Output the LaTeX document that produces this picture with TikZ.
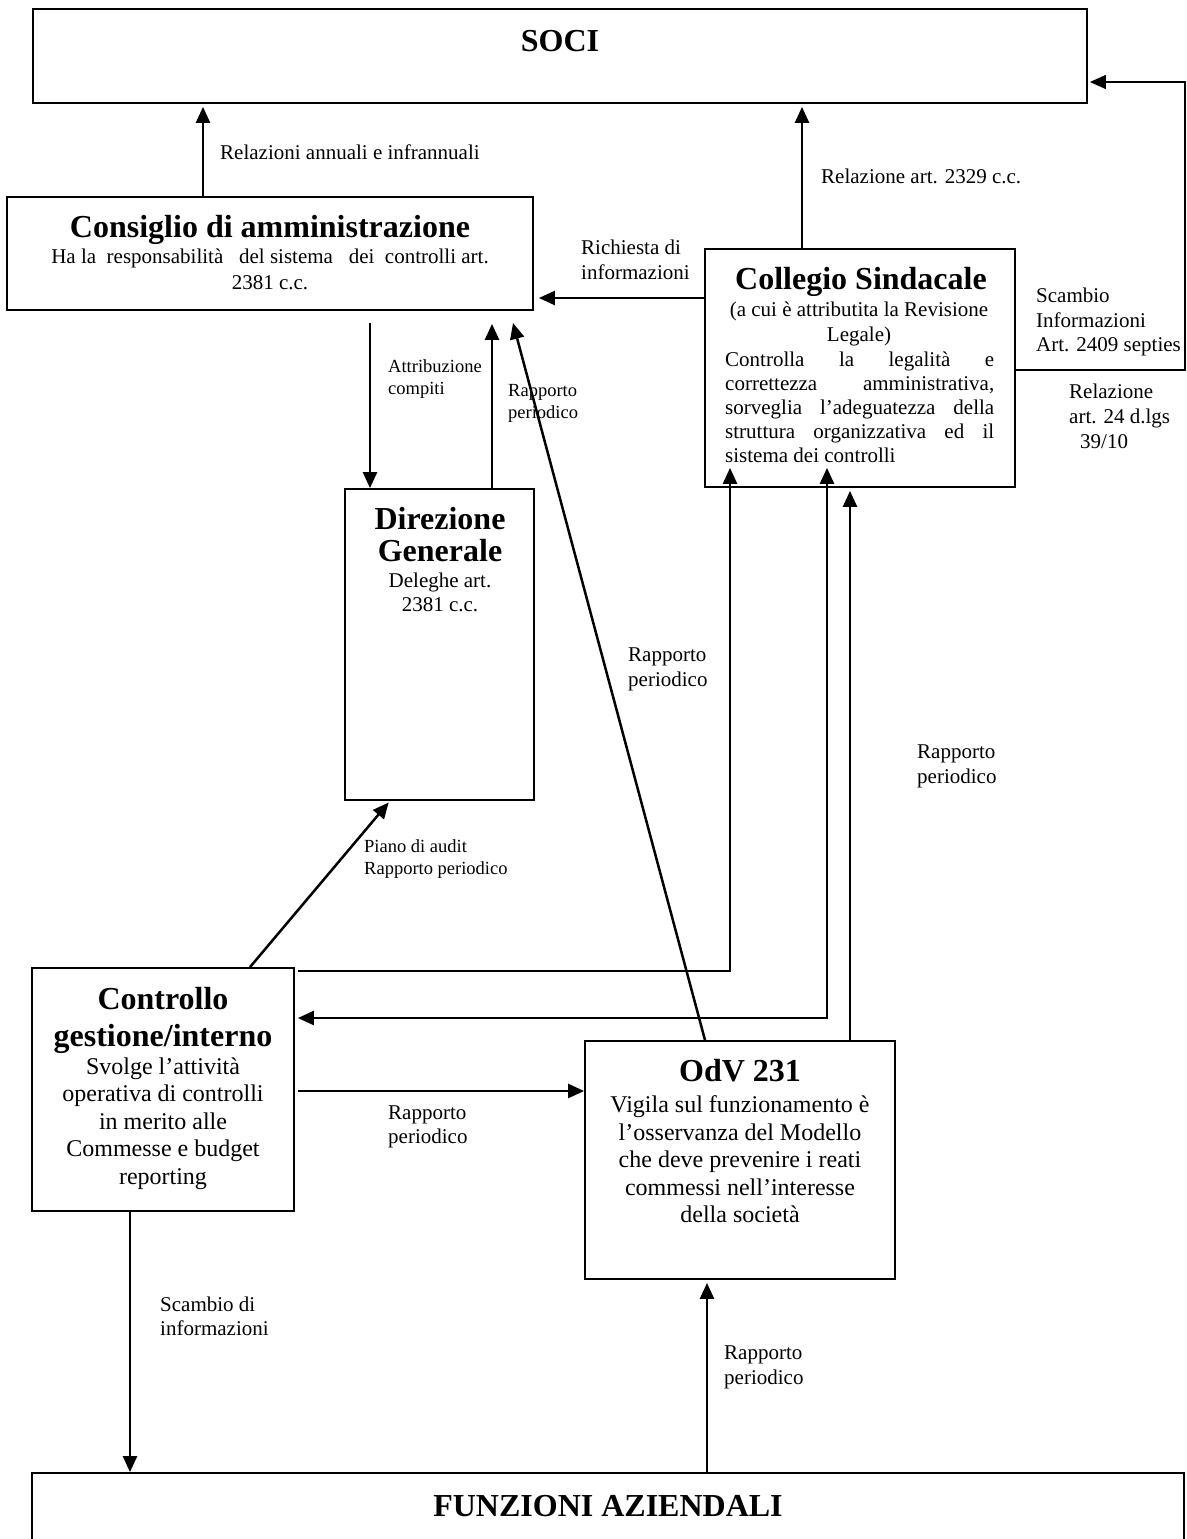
\documentclass[tikz,border=0pt]{standalone}
\usepackage{fontspec}
\setmainfont{Liberation Serif}
\usetikzlibrary{arrows.meta}
\begin{document}
\begin{tikzpicture}[x=1pt,y=-1pt,
  box/.style={draw, line width=1.8pt, inner sep=0pt},
  ttl/.style={font=\fontsize{32}{37}\selectfont\bfseries, inner sep=0pt, anchor=north, align=center},
  ttlb/.style={font=\fontsize{32}{32}\selectfont\bfseries, inner sep=0pt, anchor=north, align=center},
  bodyA/.style={font=\fontsize{24}{27.5}\selectfont, inner sep=0pt, anchor=north, align=center},
  bodyB/.style={font=\fontsize{21}{24}\selectfont, inner sep=0pt, anchor=north, align=center},
  lab/.style={font=\fontsize{21}{25}\selectfont, inner sep=0pt, anchor=north west, align=left},
  sml/.style={font=\fontsize{18.5}{22}\selectfont, inner sep=0pt, anchor=north west, align=left},
  tipA/.tip={Triangle[length=16pt,width=14pt]},
  arr/.style={line width=2.5pt, -tipA},
  arrb/.style={line width=2.5pt, tipA-tipA},
  thinarr/.style={line width=1.3pt, -tipA}
]
\useasboundingbox (0,0) rectangle (1186,1539);
\fill[white] (0,0) rectangle (1186,1539);

% boxes
\node[box, minimum width=1054pt, minimum height=94pt] (soci) at (560,56) {};
\node[box, minimum width=526pt, minimum height=113pt] (cda) at (270,253.5) {};
\node[box, minimum width=310pt, minimum height=238pt] (cs) at (860,368) {};
\node[box, minimum width=189pt, minimum height=311pt] (dg) at (439.5,644.5) {};
\node[box, minimum width=262pt, minimum height=243pt] (cg) at (163,1089.5) {};
\node[box, minimum width=310pt, minimum height=238pt] (odv) at (740,1160) {};
\node[box, minimum width=1152pt, minimum height=100pt] (fa) at (608,1523) {};

% box texts
\node[ttl] (socit) at (560,25) {\strut SOCI};
\node[ttl] (cdat) at (270,211.7) {\strut Consiglio di amministrazione};
\node[font=\fontsize{21}{26}\selectfont, inner sep=0pt, anchor=north, align=center] (cdab) at (270,245.1)
  {\strut Ha la\ \ responsabilità\ \ \ del sistema\ \ \ dei\ \ controlli art.\\2381 c.c.};
\node[ttl] (cst) at (861,263.7) {\strut Collegio Sindacale};
\node[font=\fontsize{21}{25}\selectfont, inner sep=0pt, anchor=north, align=center] (css) at (859,298.8)
  {\strut (a cui è attributita la Revisione\\Legale)};
\node[bodyB, anchor=north west, align=left] (csb) at (725,349.5)
  {\strut\makebox[269pt][s]{Controlla la legalità e}\\
   \makebox[269pt][s]{correttezza amministrativa,}\\
   \makebox[269pt][s]{sorveglia l’adeguatezza della}\\
   \makebox[269pt][s]{struttura organizzativa ed il}\\
   sistema dei controlli};
\node[ttlb] (dgt) at (440,507.2) {\strut Direzione\\Generale};
\node[bodyB] (dgb) at (440,570.5) {\strut Deleghe art.\\2381 c.c.};
\node[ttl] (cgt) at (163,983.7) {\strut Controllo\\gestione/interno};
\node[bodyA] (cgb) at (163,1054.8) {\strut Svolge l’attività\\operativa di controlli\\in merito alle\\Commesse e budget\\reporting};
\node[ttl] (odvt) at (740,1055.7) {\strut OdV 231};
\node[bodyA] (odvb) at (740,1093.2) {\strut Vigila sul funzionamento è\\l’osservanza del Modello\\che deve prevenire i reati\\commessi nell’interesse\\della società};
\node[ttl] (fat) at (608,1490.7) {\strut FUNZIONI AZIENDALI};

% labels
\node[lab] (l1) at (220,141.8) {\strut Relazioni annuali e infrannuali};
\node[lab] (l2) at (821,165.8) {\strut Relazione art. 2329 c.c.};
\node[lab] (l3) at (581,236.8) {\strut Richiesta di\\informazioni};
\node[lab, font=\fontsize{21}{24.5}\selectfont] (l4) at (1036,285.2) {\strut Scambio\\Informazioni\\Art. 2409 septies};
\node[lab] (l5) at (1069,380.8) {\strut Relazione\\art. 24 d.lgs\\\hspace*{11pt}39/10};
\node[sml] (l6) at (388,357.2) {\strut Attribuzione\\compiti};
\node[sml] (l7) at (508,381.2) {\strut Rapporto\\periodico};
\node[lab] (l8) at (628,643.8) {\strut Rapporto\\periodico};
\node[lab] (l9) at (917,740.8) {\strut Rapporto\\periodico};
\node[sml] (l10) at (364,837.2) {\strut Piano di audit\\Rapporto periodico};
\node[lab, font=\fontsize{21}{24}\selectfont] (l11) at (388,1102.5) {\strut Rapporto\\periodico};
\node[lab, font=\fontsize{21}{24}\selectfont] (l12) at (160,1294.5) {\strut Scambio di\\informazioni};
\node[lab] (l13) at (724,1341.8) {\strut Rapporto\\periodico};

% connectors
\coordinate (rc) at (1185,82);
\coordinate (dtip) at (513,323);
\draw[arr, shorten >=3pt] (cda.north -| 203,0) -- (soci.south -| 203,0);
\draw[arr, shorten >=3pt] (cs.north -| 802,0) -- (soci.south -| 802,0);
\draw[arr, shorten >=5pt] (cs.west |- 0,298) -- (cda.east |- 0,298);
\draw[thinarr, shorten >=2pt] (cs.east |- 0,370) -| (rc) -- (soci.east |- rc);
\draw[arr, shorten <=12pt] (cda.south -| 370,0) -- (dg.north -| 370,0);
\draw[arr, shorten >=13pt] (dg.north -| 492,0) -- (cda.south -| 492,0);
\draw[arr] (odv.north -| 705,0) -- (dtip);
\draw[arr, shorten >=2pt] (cg.north -| 250,0) -- (dg.south -| 390,0);
\draw[arr, shorten <=3pt, shorten >=-20pt] (cg.east |- 0,971) -| (cs.south -| 730,0);
\draw[arrb, shorten <=-20pt, shorten >=3pt] (cs.south -| 827,0) |- (cg.east |- 0,1018);
\draw[arr, shorten >=3pt] (odv.north -| 850,0) -- (cs.south -| 850,0);
\draw[arr, shorten <=3pt] (cg.east |- 0,1091) -- (odv.west |- 0,1091);
\draw[arr] (cg.south -| 130,0) -- (fa.north -| 130,0);
\draw[arr, shorten >=3pt] (fa.north -| 707,0) -- (odv.south -| 707,0);
\end{tikzpicture}
\end{document}
